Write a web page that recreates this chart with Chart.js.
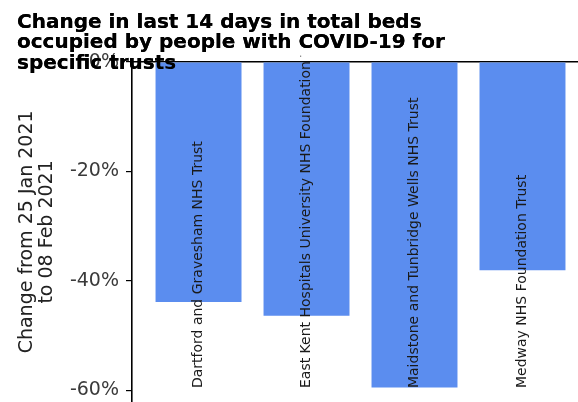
<!DOCTYPE html>
<html>
<head>
<meta charset="utf-8">
<script src="https://cdn.jsdelivr.net/npm/chart.js@4/dist/chart.umd.min.js"></script>
<style>
html, body { margin: 0; padding: 0; background: #fff; }
canvas { display: block; }
</style>
</head>
<body>
<canvas id="myChart" width="578" height="402"></canvas>
<script>
// Data
const TRUSTS = [
    'Dartford and Gravesham NHS Trust',
    'East Kent Hospitals University NHS Foundation Trust',
    'Maidstone and Tunbridge Wells NHS Trust',
    'Medway NHS Foundation Trust'
];
const CHANGE = [-43.9, -46.4, -59.5, -38.1];
const Y_TICKS = [0, -20, -40, -60];
const TITLE_LINES = [
    'Change in last 14 days in total beds',
    'occupied by people with COVID-19 for',
    'specific trusts'
];
const Y_TITLE_LINES = ['Change from 25 Jan 2021', 'to 08 Feb 2021'];
const LABEL_BASE = -59.6;

const BAR_COLOUR = '#5b8def';
const FONT = '"DejaVu Sans", sans-serif';

// trust names written up the inside of each bar, then the title again on top
const barLabels = {
    id: 'barLabels',
    afterDatasetsDraw(chart) {
        const {ctx, chartArea, scales: {x, y}} = chart;
        ctx.save();
        ctx.beginPath();
        ctx.rect(chartArea.left, chartArea.top - 6, chartArea.right - chartArea.left, chartArea.bottom - chartArea.top + 6);
        ctx.clip();
        ctx.font = '14px ' + FONT;
        ctx.fillStyle = '#1a1a1a';
        ctx.textAlign = 'left';
        ctx.textBaseline = 'middle';
        TRUSTS.forEach((name, i) => {
            ctx.save();
            ctx.translate(x.getPixelForValue(i), y.getPixelForValue(LABEL_BASE));
            ctx.rotate(-Math.PI / 2);
            ctx.fillText(name, 0, 0);
            ctx.restore();
        });
        ctx.restore();
        if (chart.titleBlock) chart.titleBlock.draw();
    }
};

const ctx = document.getElementById('myChart');
const myChart = new Chart(ctx, {
    type: 'bar',
    data: {
        datasets: [{
            data: CHANGE.map((v, i) => ({ x: i, y: v })),
            backgroundColor: BAR_COLOUR,
            borderWidth: 0,
            barPercentage: 0.796,
            categoryPercentage: 1
        }]
    },
    plugins: [barLabels],
    options: {
        responsive: false,
        animation: false,
        devicePixelRatio: 1,
        layout: { padding: { left: 17, right: 0, top: 0, bottom: 0 } },
        plugins: {
            legend: { display: false },
            tooltip: { enabled: false },
            title: {
                display: true,
                text: TITLE_LINES,
                align: 'start',
                color: '#000',
                font: { family: FONT, size: 20, weight: 'bold', lineHeight: 1.03 },
                padding: { top: 12, bottom: -12 }
            }
        },
        scales: {
            x: {
                type: 'linear',
                position: 'top',
                offset: false,
                min: -0.616,
                max: 3.514,
                afterBuildTicks: (axis) => { axis.ticks = TRUSTS.map((_, i) => ({ value: i })); },
                grid: { display: false, drawTicks: false, offset: false },
                ticks: { display: false },
                border: { display: true, color: '#000', width: 1.6 }
            },
            y: {
                min: -62.15,
                max: 0,
                afterBuildTicks: (axis) => { axis.ticks = Y_TICKS.map(v => ({ value: v })); },
                afterFit: (axis) => {
                    axis.width = 115;
                    axis.paddingTop = 0;
                    axis.paddingBottom = 0;
                },
                grid: { display: true, drawOnChartArea: false, drawTicks: true, tickLength: 6, color: '#000', lineWidth: 1.2 },
                border: { display: true, color: '#000', width: 1.6 },
                ticks: {
                    color: '#3a3a3a',
                    padding: 7,
                    font: { family: FONT, size: 19 },
                    callback: (v) => v + '%'
                },
                title: {
                    display: true,
                    text: Y_TITLE_LINES,
                    color: '#222',
                    font: { family: FONT, size: 19, lineHeight: 1.05 },
                    padding: { top: 0, bottom: 0 }
                }
            }
        }
    }
});
</script>
</body>
</html>
